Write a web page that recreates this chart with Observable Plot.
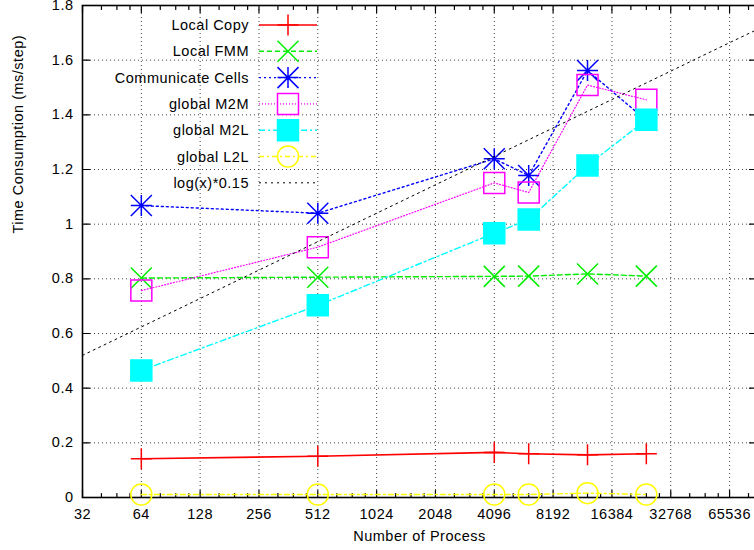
<!DOCTYPE html>
<html><head><meta charset="utf-8">
<script src="https://cdn.jsdelivr.net/npm/d3@7"></script>
<script src="https://cdn.jsdelivr.net/npm/@observablehq/plot@0.6"></script>
<style>
html,body{margin:0;padding:0;background:#fff;overflow:hidden;}
#wrap{position:relative;width:754px;height:550px;overflow:hidden;}
#legend{position:absolute;left:0;top:0;pointer-events:none;}
</style></head><body><div id="wrap"></div>
<script>
// ---- data ----
const processes = [64, 512, 4096, 6144, 12288, 24576];
const localCopy = [0.142, 0.151, 0.165, 0.160, 0.156, 0.160];
const localFMM = [0.803, 0.806, 0.809, 0.810, 0.818, 0.810];
const communicateCells = [1.068, 1.040, 1.239, 1.178, 1.562, 1.380];
const globalM2M = [0.757, 0.916, 1.151, 1.116, 1.509, 1.455];
const globalM2L = [0.465, 0.703, 0.967, 1.017, 1.215, 1.382];
const globalL2L = [0.011, 0.011, 0.011, 0.011, 0.016, 0.011];
const logRefX = [32, 65536, 90000];
const logRefY = [0.520, 1.664, 1.711];
const seriesNames = ["Local Copy", "Local FMM", "Communicate Cells", "global M2M", "global M2L", "global L2L", "log(x)*0.15"];
const xTicks = [32, 64, 128, 256, 512, 1024, 2048, 4096, 8192, 16384, 32768, 65536];
const minorMult = [1.25, 1.5, 1.75];
const yTicks = [0, 0.2, 0.4, 0.6, 0.8, 1, 1.2, 1.4, 1.6, 1.8];
const yTickLabels = ["0", "0.2", "0.4", "0.6", "0.8", "1", "1.2", "1.4", "1.6", "1.8"];
const xLabel = "Number of Process";
const yLabel = "Time Consumption (ms/step)";

// ---- symbols ----
const R = 10.5;
function drawSym(kind, c, r) {
  if (kind === "plus" || kind === "asterisk") { c.moveTo(-r, 0); c.lineTo(r, 0); c.moveTo(0, -r); c.lineTo(0, r); }
  if (kind === "times" || kind === "asterisk") { c.moveTo(-r, -r); c.lineTo(r, r); c.moveTo(-r, r); c.lineTo(r, -r); }
  if (kind === "square") { c.rect(-r, -r, 2 * r, 2 * r); }
  if (kind === "circle") { c.moveTo(r, 0); c.arc(0, 0, r, 0, 2 * Math.PI); c.closePath(); }
}
const mkSym = kind => ({draw(c, s) { drawSym(kind, c, Math.sqrt(s / Math.PI)); }});

const series = [
  {ys: localCopy, color: "#ff0000", dash: null, sym: "plus", fill: "none", w: 1.6},
  {ys: localFMM, color: "#00ee00", dash: "5,3", sym: "times", fill: "none", w: 1.4},
  {ys: communicateCells, color: "#0000ff", dash: "2,3", sym: "asterisk", fill: "none", w: 1.4},
  {ys: globalM2M, color: "#ff00ff", dash: "1,2", sym: "square", fill: "none", w: 1.2},
  {ys: globalM2L, color: "#00ffff", dash: "6,3,2,3", sym: "square", fill: "#00ffff", w: 1.4},
  {ys: globalL2L, color: "#ffff00", dash: "5,3,2,3", sym: "circle", fill: "none", w: 1.4}
];
const logStyle = {color: "#000", dash: "2,4", w: 1};

const rows = series.map(s => processes.map((x, i) => ({x, y: s.ys[i]})));
const logRows = logRefX.map((x, i) => ({x, y: logRefY[i]}));
const minorX = xTicks.flatMap(m => minorMult.map(k => m * k)).filter(v => v < 90000);

const tickShape = {draw(ctx, l) { ctx.moveTo(0, 0); ctx.lineTo(0, -l); }};
const tick = (data, fa, rot, len, acc) => Plot.vector(data, {[acc]: d => d, frameAnchor: fa, rotate: rot, length: len, anchor: "start", shape: tickShape, stroke: "#000", strokeWidth: 1.2});

const marks = [
  Plot.gridX(xTicks.slice(1), {stroke: "#000", strokeOpacity: 0.75, strokeDasharray: "1,3", strokeWidth: 1}),
  Plot.gridY(yTicks.slice(1, -1), {stroke: "#000", strokeOpacity: 0.75, strokeDasharray: "1,3", strokeWidth: 1}),
  Plot.axisX(xTicks, {tickSize: 0, tickPadding: 11, tickFormat: d => String(d), label: null}),
  Plot.axisY(yTicks, {tickSize: 0, tickPadding: 9, tickFormat: (d, i) => yTickLabels[yTicks.indexOf(d)], label: null}),
  tick(xTicks, "bottom", 0, 7, "x"),
  tick(xTicks, "top", 180, 7, "x"),
  tick(minorX, "bottom", 0, 4, "x"),
  tick(minorX, "top", 180, 4, "x"),
  tick(yTicks, "left", 90, 7, "y"),
  tick(yTicks, "right", -90, 7, "y"),
  Plot.frame({stroke: "#000", strokeWidth: 1.6}),
  Plot.text([xLabel], {frameAnchor: "bottom", dy: 43, text: d => d}),
  Plot.text([yLabel], {frameAnchor: "left", rotate: -90, dx: -64, dy: -18, text: d => d})
];
series.forEach((s, k) => {
  marks.push(Plot.line(rows[k], {x: "x", y: "y", stroke: s.color, strokeWidth: s.w, strokeDasharray: s.dash}));
  marks.push(Plot.dot(rows[k], {x: "x", y: "y", symbol: mkSym(s.sym), r: R, stroke: s.color, fill: s.fill, strokeWidth: 1.5}));
});
marks.push(Plot.line(logRows, {x: "x", y: "y", stroke: logStyle.color, strokeWidth: logStyle.w, strokeDasharray: logStyle.dash}));

const FONT = "'Liberation Sans', Arial, Helvetica, sans-serif";
const chart = Plot.plot({
  width: 756, height: 550,
  marginLeft: 82, marginRight: 0, marginTop: 5, marginBottom: 53,
  x: {type: "log", base: 2, domain: [32, 90000]},
  y: {domain: [0, 1.8]},
  style: {fontFamily: FONT, fontSize: "14.5px", letterSpacing: "0.5px", color: "#000", background: "#fff", maxWidth: "none", overflow: "hidden"},
  marks
});
const wrap = document.getElementById("wrap");
wrap.appendChild(chart);

// ---- legend overlay ----
const lg = d3.select(wrap).append("svg").attr("id", "legend").attr("width", 754).attr("height", 550)
  .style("font-family", FONT).style("font-size", "14.5px").style("letter-spacing", "0.5px");
const legendStyles = series.concat([{color: logStyle.color, dash: logStyle.dash, w: logStyle.w, sym: null}]);
legendStyles.forEach((s, i) => {
  const y = 25 + i * 26.3;
  const g = lg.append("g").attr("transform", `translate(0,${y})`);
  g.append("text").attr("x", 249).attr("y", 0).attr("dy", "0.35em").attr("text-anchor", "end").attr("fill", "#000").text(seriesNames[i]);
  g.append("line").attr("x1", 259).attr("x2", 317).attr("y1", 0).attr("y2", 0)
    .attr("stroke", s.color).attr("stroke-width", s.w).attr("stroke-dasharray", s.dash);
  if (s.sym) {
    const p = d3.path();
    drawSym(s.sym, p, R);
    g.append("path").attr("transform", "translate(288,0)").attr("d", p.toString())
      .attr("stroke", s.color).attr("fill", s.fill).attr("stroke-width", 1.5);
  }
});
</script></body></html>
